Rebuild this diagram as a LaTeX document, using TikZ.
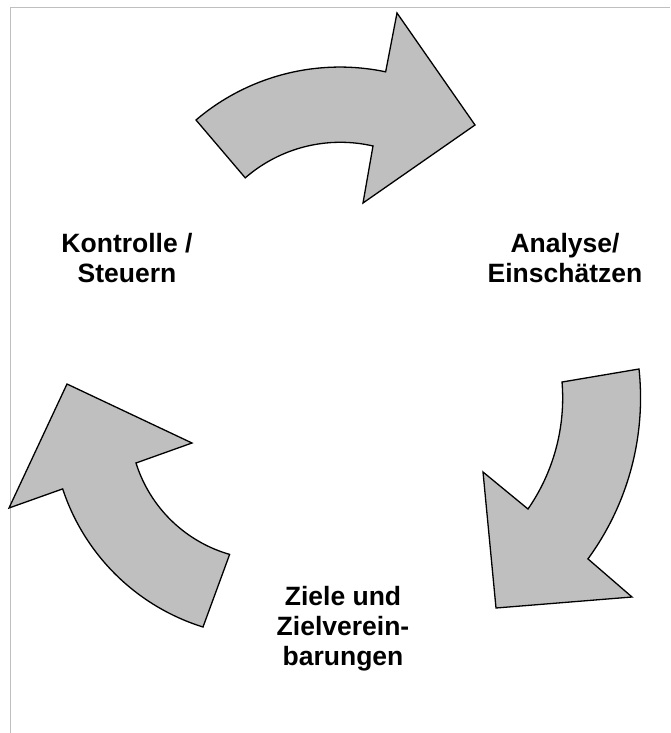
\documentclass[tikz,border=0pt]{standalone}
\usepackage{fontspec}
\setmainfont{Liberation Sans}
\begin{document}
\begin{tikzpicture}[x=1pt,y=-1pt,
  pfeil/.style={draw=black,fill=black!25,line width=1.3pt,line join=miter},
  etikett/.style={align=center,anchor=base,inner sep=0pt,
    font=\fontsize{26.5}{30}\selectfont\bfseries},
  rahmen/.style={draw=black!25,line width=1pt}]
\useasboundingbox (0,0) rectangle (670,733);
\draw[rahmen] (10.5,733) -- (10.5,8) -- (670,8);
% top arrow
\filldraw[pfeil] (196,120) arc[start angle=-130.4,end angle=-78.1,radius=222]
  -- (397,13) -- (475,125) -- (363,203) -- (373,146)
  arc[start angle=-77,end angle=-131,radius=145] -- cycle;
% right arrow
\filldraw[pfeil] (639,369) arc[start angle=-6.1,end angle=36.2,radius=272.5]
  -- (632,597) -- (496,608) -- (483,472) -- (528,509)
  arc[start angle=34.7,end angle=-4.7,radius=195] -- cycle;
% left arrow
\filldraw[pfeil] (203,627) arc[start angle=107.3,end angle=161.8,radius=215]
  -- (9,508) -- (67,384) -- (192,443) -- (136,463)
  arc[start angle=162.6,end angle=106,radius=138] -- cycle;
\node[etikett] (kontrolle) at (127,282) {Kontrolle /\\Steuern};
\node[etikett] (analyse) at (565,282) {Analyse/\\Einschätzen};
\node[etikett] (ziele) at (343,665) {Ziele und\\Zielverein-\\barungen};
\end{tikzpicture}
\end{document}
